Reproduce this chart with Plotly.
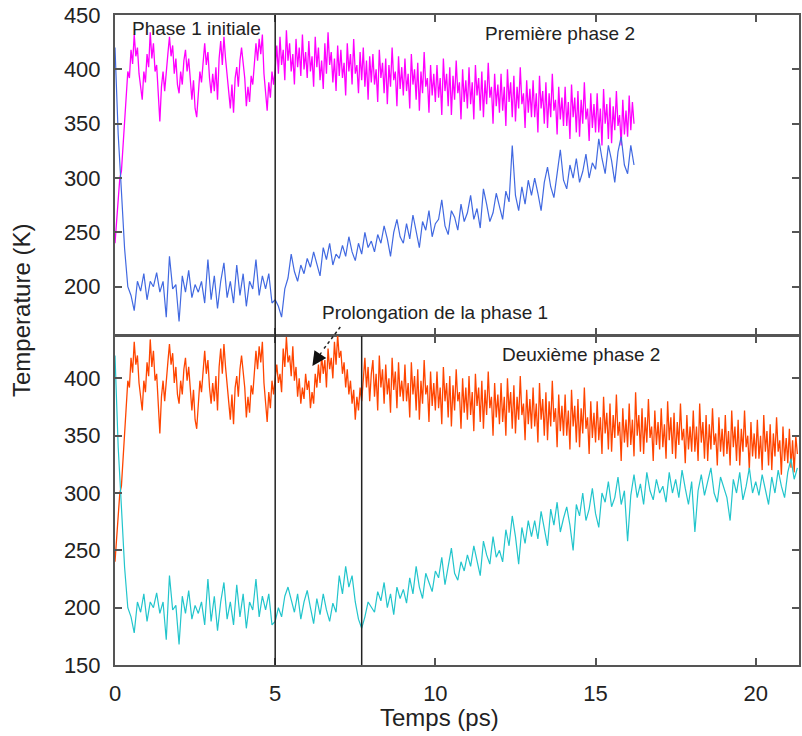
import numpy as np
import plotly.graph_objects as go
from plotly.subplots import make_subplots

# sampling steps (ps): the hot series are read finer than the cold ones
HOT_STEP = 0.05
COLD_STEP = 0.1

# ---- phase 1 initiale, 0 -> 5 ps (shared by both runs)
phase1_hot = [240, 262, 282, 300, 306, 330, 360, 385, 398, 392,
              418, 405, 432, 412, 420, 396, 386, 372, 398, 388,
              414, 402, 434, 410, 424, 398, 404, 378, 352, 384,
              398, 380, 402, 414, 430, 412, 422, 396, 410, 386,
              378, 398, 386, 408, 418, 398, 410, 386, 372, 390,
              364, 356, 382, 398, 388, 410, 424, 404, 416, 392,
              378, 396, 380, 402, 372, 410, 426, 404, 430, 410,
              396, 382, 364, 386, 360, 392, 402, 384, 408, 420,
              406, 392, 366, 384, 370, 394, 386, 404, 424, 408,
              428, 414, 432, 396, 380, 362, 388, 374, 398, 386,
              400]
phase1_cold = [420, 340, 288, 235, 200, 192, 178, 205, 196, 212,
               188, 205, 200, 213, 195, 205, 172, 228, 198, 202,
               168, 210, 195, 215, 190, 202, 195, 205, 185, 225,
               188, 210, 180, 205, 222, 190, 205, 185, 220, 192,
               212, 182, 205, 198, 225, 192, 210, 198, 212, 185,
               188]

# ---- premiere phase 2, top run after 5 ps
phase2a_hot = [422, 396, 430, 404, 418, 390, 436, 408, 424, 398, 414, 386, 428, 402, 420, 394, 432, 400, 416, 392,
               426, 398, 412, 384, 430, 402, 420, 390, 408, 382, 424, 396, 434, 404, 416, 388, 410, 380, 422, 394,
               418, 392, 406, 376, 424, 398, 414, 386, 428, 396, 404, 378, 416, 390, 420, 384, 408, 372, 412, 388,
               414, 386, 400, 370, 418, 392, 406, 378, 410, 368, 404, 384, 420, 390, 398, 366, 412, 382, 402, 376,
               410, 380, 396, 364, 414, 386, 400, 372, 406, 362, 398, 378, 416, 384, 392, 360, 404, 376, 396, 370,
               404, 374, 392, 358, 410, 380, 396, 366, 402, 358, 394, 372, 408, 378, 388, 354, 400, 370, 390, 364,
               402, 368, 388, 354, 404, 376, 392, 362, 398, 356, 390, 368, 406, 374, 384, 350, 396, 366, 386, 360,
               396, 362, 384, 348, 400, 370, 388, 356, 394, 352, 384, 364, 402, 368, 378, 346, 390, 360, 382, 356,
               390, 356, 378, 342, 394, 364, 380, 350, 388, 346, 378, 356, 396, 362, 372, 340, 384, 354, 374, 348,
               384, 348, 370, 336, 386, 356, 374, 342, 380, 338, 372, 350, 388, 354, 364, 334, 378, 346, 368, 342,
               378, 342, 364, 330, 382, 350, 368, 336, 374, 332, 366, 344, 380, 348, 358, 330, 372, 340, 362, 338,
               376, 344, 370, 350]
phase2a_cold = [182, 172, 198, 208, 230, 214, 205, 220, 212, 226,
                218, 232, 222, 210, 236, 225, 240, 220, 230, 226,
                238, 228, 246, 232, 224, 240, 230, 250, 236, 242,
                232, 248, 240, 256, 244, 228, 250, 262, 246, 240,
                258, 244, 266, 250, 236, 260, 252, 270, 246, 258,
                262, 280, 256, 248, 270, 264, 252, 276, 260, 268,
                284, 262, 272, 254, 290, 276, 260, 268, 286, 274,
                262, 288, 278, 330, 284, 270, 292, 276, 298, 284,
                300, 286, 270, 296, 310, 292, 282, 304, 326, 298,
                290, 312, 300, 318, 296, 306, 322, 300, 314, 308,
                336, 318, 304, 330, 316, 296, 324, 338, 312, 304,
                330, 312]

# ---- prolongation de la phase 1, bottom run 5 -> 7.7 ps
prolong_hot = [412, 396, 404, 388, 426, 410, 436, 414, 420, 402, 428, 398, 410, 384, 400, 378, 392, 382, 404, 390,
               398, 374, 388, 378, 404, 392, 412, 396, 420, 404, 416, 392, 426, 408, 418, 400, 432, 412, 438, 418,
               424, 404, 414, 392, 408, 386, 398, 378, 390, 364, 384, 372, 392, 380]
prolong_cold = [200, 192, 210, 218, 206, 196, 212, 190, 205, 215,
                200, 186, 208, 194, 212, 198, 188, 204, 196, 228,
                212, 236, 218, 228, 205, 190, 182]

# ---- deuxieme phase 2, bottom run after 7.7 ps
phase2b_hot = [402, 418, 392, 410, 380, 404,
               416, 384, 404, 372, 420, 392, 408, 378, 412, 386, 400, 370, 418, 390, 406, 374, 414, 384, 398, 380,
               412, 380, 396, 366, 414, 386, 402, 372, 408, 364, 398, 378, 416, 386, 394, 362, 406, 376, 396, 372,
               406, 374, 392, 360, 410, 380, 396, 366, 402, 358, 394, 372, 408, 380, 388, 356, 400, 370, 392, 364,
               402, 368, 388, 354, 404, 376, 392, 362, 398, 356, 390, 368, 406, 374, 384, 350, 396, 366, 386, 360,
               396, 362, 384, 350, 400, 370, 388, 356, 394, 352, 384, 364, 402, 368, 378, 346, 390, 360, 382, 356,
               392, 358, 378, 344, 396, 364, 382, 350, 388, 346, 380, 358, 398, 362, 374, 340, 386, 354, 376, 350,
               386, 350, 372, 338, 390, 358, 376, 344, 382, 340, 374, 352, 392, 356, 366, 334, 380, 348, 370, 344,
               380, 346, 366, 334, 384, 352, 370, 338, 378, 336, 368, 348, 386, 350, 362, 328, 374, 344, 364, 340,
               378, 342, 364, 332, 388, 350, 368, 336, 374, 334, 366, 344, 382, 348, 358, 328, 372, 342, 362, 338,
               374, 340, 360, 330, 380, 346, 366, 334, 370, 330, 362, 342, 378, 346, 356, 326, 368, 338, 358, 336,
               372, 336, 358, 328, 378, 344, 362, 330, 368, 328, 360, 338, 374, 342, 352, 324, 366, 336, 356, 332,
               368, 334, 354, 324, 372, 340, 358, 328, 364, 324, 356, 336, 372, 340, 350, 320, 362, 332, 352, 330,
               364, 330, 350, 320, 368, 336, 354, 324, 360, 320, 352, 332, 366, 336, 346, 316, 358, 328, 348, 326,
               356, 322, 346, 318, 350, 334]
phase2b_cold = [192, 205, 200,
                196, 214, 206, 222, 200, 212, 194, 218, 208, 216,
                204, 226, 212, 236, 218, 208, 230, 222, 214, 232,
                226, 244, 220, 236, 252, 230, 224, 240, 232, 246,
                236, 254, 240, 228, 258, 246, 238, 262, 244, 250,
                240, 268, 254, 280, 262, 238, 270, 256, 276, 262,
                276, 260, 284, 268, 254, 286, 272, 292, 266, 278,
                288, 272, 250, 290, 280, 300, 276, 286, 304, 282,
                270, 300, 292, 310, 288, 296, 314, 290, 302, 258,
                298, 316, 296, 308, 290, 318, 302, 294, 312, 300,
                306, 292, 318, 300, 312, 296, 320, 304, 290, 310,
                266, 302, 316, 298, 310, 322, 300, 292, 314, 304,
                296, 276, 312, 300, 318, 294, 306, 322, 300, 310,
                298, 316, 304, 290, 314, 300, 320, 306, 296, 318,
                330, 312, 322]

top_hot = phase1_hot + phase2a_hot
top_cold = phase1_cold + phase2a_cold
bot_hot = phase1_hot + prolong_hot + phase2b_hot
bot_cold = phase1_cold + prolong_cold + phase2b_cold


def times(values, step):
    return np.round(np.arange(len(values)) * step, 2)


fig = make_subplots(rows=2, cols=1, shared_xaxes=True, vertical_spacing=0)

fig.add_trace(go.Scatter(x=times(top_hot, HOT_STEP), y=top_hot, mode='lines',
                         line=dict(color='#ff00ff', width=1.3)), row=1, col=1)
fig.add_trace(go.Scatter(x=times(top_cold, COLD_STEP), y=top_cold, mode='lines',
                         line=dict(color='#4169e1', width=1.2)), row=1, col=1)
fig.add_trace(go.Scatter(x=times(bot_hot, HOT_STEP), y=bot_hot, mode='lines',
                         line=dict(color='#ff4500', width=1.3)), row=2, col=1)
fig.add_trace(go.Scatter(x=times(bot_cold, COLD_STEP), y=bot_cold, mode='lines',
                         line=dict(color='#22c5cc', width=1.2)), row=2, col=1)

tickfont = dict(family='Liberation Sans, Arial', size=22, color='#222')
axis_style = dict(showline=True, linecolor='#555', linewidth=2, mirror='ticks',
                  ticks='inside', ticklen=7, tickwidth=1.5, tickcolor='#555',
                  showgrid=False, zeroline=False, tickfont=tickfont)

fig.update_xaxes(axis_style, range=[0, 21.35], tickvals=[0, 5, 10, 15, 20])
fig.update_xaxes(showticklabels=False, row=1, col=1)
fig.update_xaxes(showticklabels=True, ticklabelstandoff=8, row=2, col=1)
fig.update_yaxes(axis_style, ticklabelstandoff=8)
fig.update_yaxes(range=[155.6, 450], tickvals=[200, 250, 300, 350, 400, 450],
                 domain=[0.5077, 1], row=1, col=1)
fig.update_yaxes(range=[150, 437], tickvals=[150, 200, 250, 300, 350, 400],
                 domain=[0, 0.5062], row=2, col=1)

# phase boundaries
fig.add_shape(type='line', xref='x2', yref='paper', x0=5, x1=5, y0=0, y1=1,
              line=dict(color='#222', width=1.5))
fig.add_shape(type='line', xref='x2', yref='y2 domain', x0=7.7, x1=7.7, y0=0, y1=1,
              line=dict(color='#222', width=1.5))

# dashed arrow towards the prolongation
fig.add_shape(type='line', xref='paper', yref='paper', x0=0.3294, y0=0.52,
              x1=0.3035, y1=0.484, line=dict(color='#222', width=1.5, dash='dot'))

labelfont = dict(family='Liberation Sans, Arial', size=19, color='#222')
fig.add_annotation(x=0.2886, y=0.46, xref='paper', yref='paper', text='',
                   showarrow=True, ax=10, ay=-15, arrowhead=2, arrowsize=2.2,
                   arrowwidth=1.3, arrowcolor='#111')
for txt, xp, yp in [('Phase 1 initiale', 0.1195, 0.98),
                    ('Première phase 2', 0.650, 0.972),
                    ('Prolongation de la phase 1', 0.468, 0.543),
                    ('Deuxième phase 2', 0.681, 0.477)]:
    fig.add_annotation(x=xp, y=yp, xref='paper', yref='paper', text=txt,
                       xanchor='center', yanchor='middle',
                       showarrow=False, font=labelfont)

titlefont = dict(family='Liberation Sans, Arial', size=24, color='#222')
fig.add_annotation(x=-0.1356, y=0.545, xref='paper', yref='paper', text='Temperature (K)',
                   xanchor='center', yanchor='middle',
                   textangle=-90, showarrow=False, font=titlefont)
fig.add_annotation(x=0.474, y=-0.08, xref='paper', yref='paper', text='Temps (ps)',
                   xanchor='center', yanchor='middle',
                   showarrow=False, font=titlefont)

fig.update_layout(
    width=802, height=736,
    margin=dict(l=115, r=1, t=15, b=71),
    showlegend=False,
    plot_bgcolor='white',
    paper_bgcolor='white',
)

fig.write_html("out.html", config={'displayModeBar': False},
               post_script="document.body.style.margin='0';")
